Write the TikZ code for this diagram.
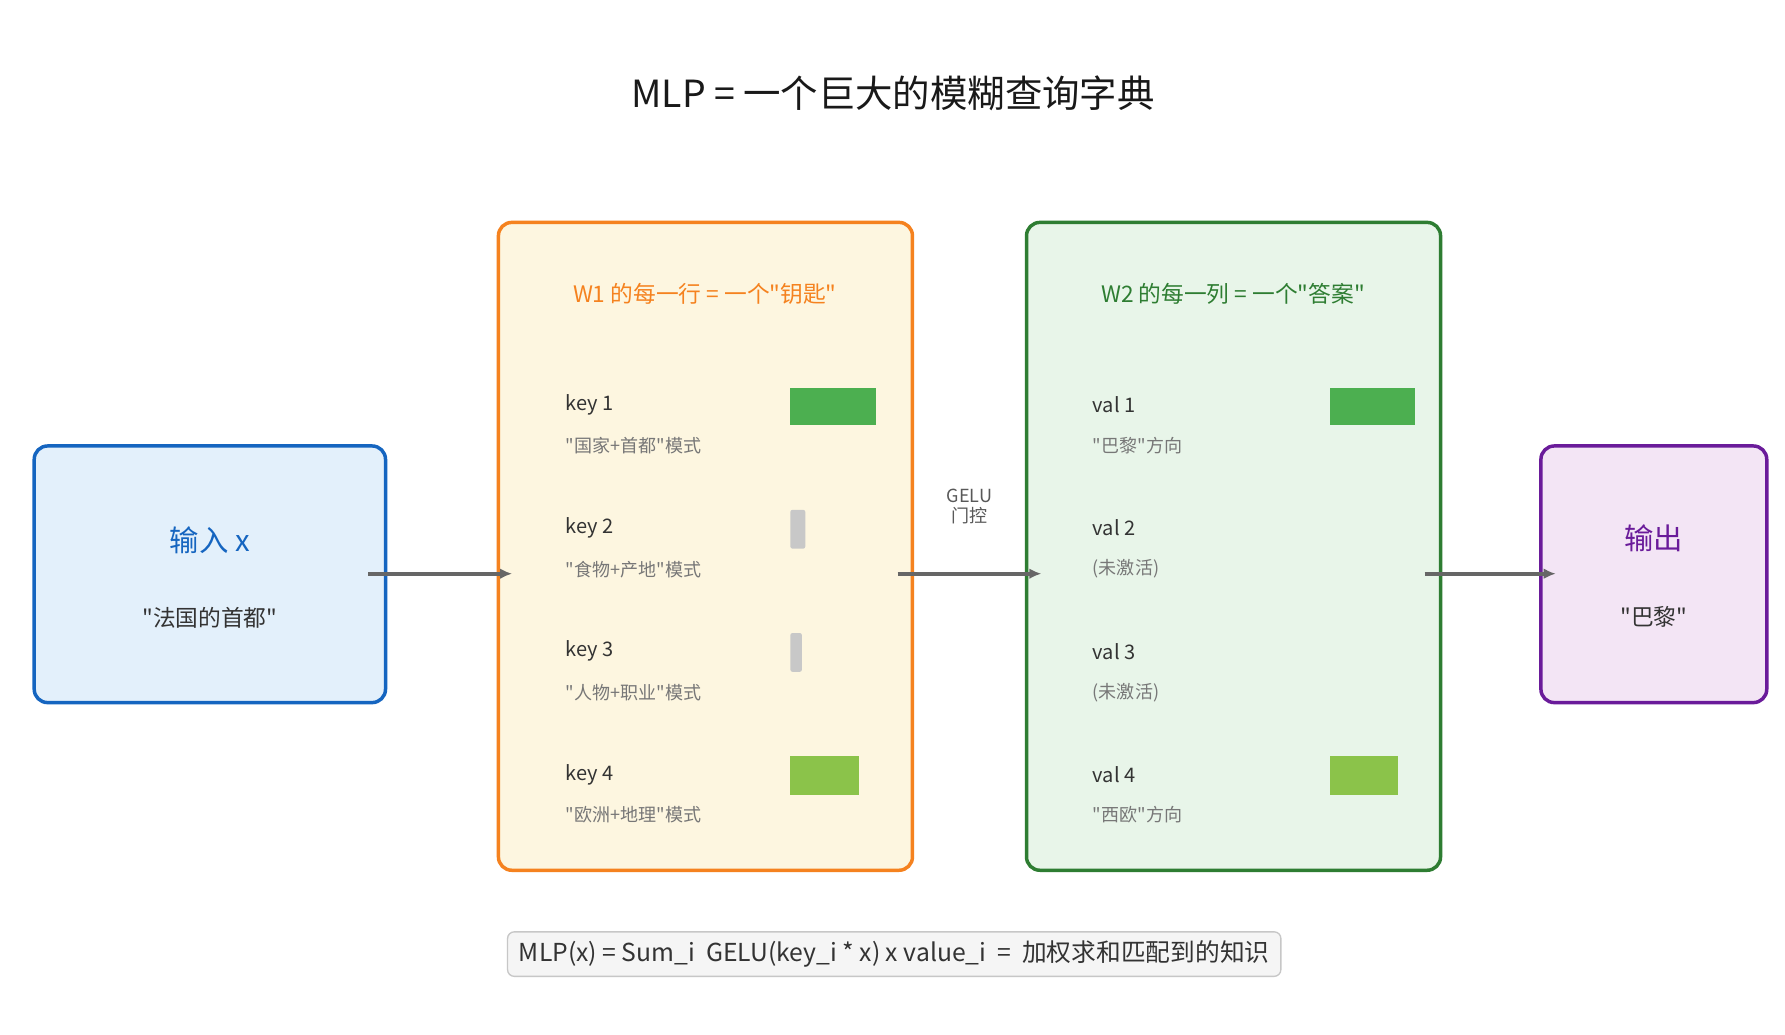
\documentclass[tikz,border=0pt]{standalone}
\usepackage{fontspec}
\newfontfamily\mf{Noto Sans CJK SC}
\usetikzlibrary{arrows.meta}
\definecolor{cblue}{HTML}{1565C0}\definecolor{fblue}{HTML}{E3F0FB}
\definecolor{corange}{HTML}{F5821F}\definecolor{forange}{HTML}{FDF6E0}
\definecolor{cgreen}{HTML}{2E7D32}\definecolor{fgreen}{HTML}{E8F5E9}
\definecolor{cpurple}{HTML}{6A1B9A}\definecolor{fpurple}{HTML}{F3E5F5}
\definecolor{bar1}{HTML}{4CAF50}\definecolor{bar2}{HTML}{8BC34A}\definecolor{barg}{HTML}{C8C8C8}
\definecolor{txt}{HTML}{333333}\definecolor{sub}{HTML}{777777}
\begin{document}
\begin{tikzpicture}[x=0.03cm,y=-0.03cm,
 panel/.style={rounded corners=10pt,line width=2.6pt},
 lab/.style={anchor=west,font=\mf\fontsize{15}{18}\selectfont,text=txt},
 subl/.style={anchor=west,font=\mf\fontsize{13.5}{16}\selectfont,text=sub},
 conn/.style={line width=3pt,draw=black!60,-{Latex[length=9pt,width=8pt]}}]
\useasboundingbox[fill=white] (0,0) rectangle (1565,907);
\node[font=\mf\fontsize{28}{32}\selectfont,text=black!90] (title) at (783,82) {MLP = 一个巨大的模糊查询字典};
% boxes
\draw[panel,draw=cblue,fill=fblue] (30,391) rectangle (338,616);
\node[text=cblue,font=\mf\fontsize{22}{26}\selectfont] (inl) at (184,474) {输入 x};
\node[text=txt,font=\mf\fontsize{17}{20}\selectfont] (ins) at (184,542) {"法国的首都"};
\draw[panel,draw=corange,fill=forange] (437,195) rectangle (800,763);
\node[text=corange,font=\mf\fontsize{17}{20}\selectfont] (w1) at (618,258) {W1 的每一行 = 一个"钥匙"};
\draw[panel,draw=cgreen,fill=fgreen] (900,195) rectangle (1263,763);
\node[text=cgreen,font=\mf\fontsize{17}{20}\selectfont] (w2) at (1081,258) {W2 的每一列 = 一个"答案"};
\draw[panel,draw=cpurple,fill=fpurple] (1351,391) rectangle (1549,616);
\node[text=cpurple,font=\mf\fontsize{22}{26}\selectfont] (outl) at (1450,472) {输出};
\node[text=txt,font=\mf\fontsize{17}{20}\selectfont] (outs) at (1450,541) {"巴黎"};
% keys
\node[lab] (k1) at (492,355) {key 1};\node[subl] (k1s) at (492,391) {"国家+首都"模式};
\node[lab] (k2) at (492,463) {key 2};\node[subl] (k2s) at (492,499) {"食物+产地"模式};
\node[lab] (k3) at (492,571) {key 3};\node[subl] (k3s) at (492,607) {"人物+职业"模式};
\node[lab] (k4) at (492,679) {key 4};\node[subl] (k4s) at (492,714) {"欧洲+地理"模式};
\fill[bar1] (693,340) rectangle (768,373);
\fill[barg,rounded corners=1.5pt] (693,447) rectangle (706,481);
\fill[barg,rounded corners=1.5pt] (693,555) rectangle (703,589);
\fill[bar2] (693,663) rectangle (753,697);
% vals
\node[lab] (v1) at (954,355) {val 1};\node[subl] (v1s) at (954,391) {"巴黎"方向};
\node[lab] (v2) at (954,463) {val 2};\node[subl] (v2s) at (954,499) {(未激活)};
\node[lab] (v3) at (954,571) {val 3};\node[subl] (v3s) at (954,607) {(未激活)};
\node[lab] (v4) at (954,679) {val 4};\node[subl] (v4s) at (954,714) {"西欧"方向};
\fill[bar1] (1166,340) rectangle (1241,373);
\fill[bar2] (1166,663) rectangle (1226,697);
% arrows
\coordinate (a1) at (323,503);\coordinate (b1) at (449,503);
\coordinate (a2) at (787,503);\coordinate (b2) at (913,503);
\coordinate (a3) at (1249,503);\coordinate (b3) at (1364,503);
\draw[conn] (a1) -- (b1);\draw[conn] (a2) -- (b2);\draw[conn] (a3) -- (b3);
\node[text=black!65,font=\mf\fontsize{13.5}{15}\selectfont,align=center] (gelu) at (850,444) {GELU\\门控};
\node[draw=black!22,fill=black!4,rounded corners=5pt,line width=1pt,minimum width=678*0.03cm,minimum height=39*0.03cm,text=txt,font=\mf\fontsize{18.5}{20}\selectfont] (f) at (784,836.5) {MLP(x) = Sum\_i\ \ GELU(key\_i * x) x value\_i\ \ =\ \ 加权求和匹配到的知识};
\end{tikzpicture}
\end{document}
